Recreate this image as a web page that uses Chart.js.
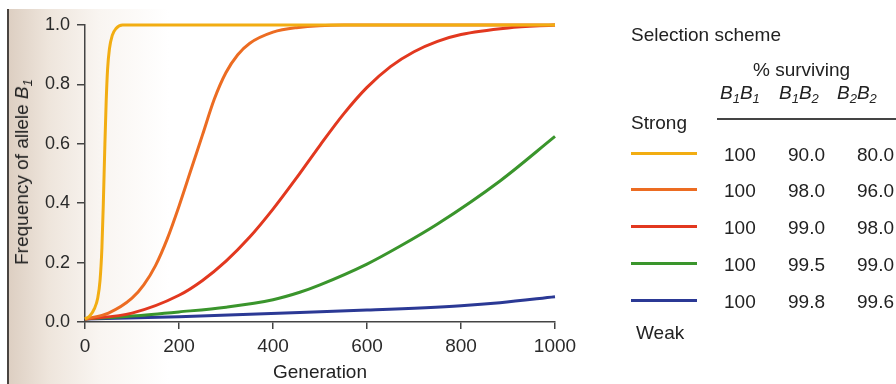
<!DOCTYPE html>
<html>
<head>
<meta charset="utf-8">
<script src="https://cdn.jsdelivr.net/npm/chart.js@4"></script>
<style>
  html, body { margin: 0; padding: 0; background: #fff; }
  #page { position: relative; width: 896px; height: 384px; overflow: hidden;
          font-family: "Liberation Sans", Arial, sans-serif; color: #222; }
  #scan { position: absolute; left: 7px; top: 9px; right: 0; bottom: 0;
          border-left: 2px solid #4a4440;
          background: linear-gradient(to right, #ddcfc2 0px, #eee5dc 40px, #f9f5f1 90px, #fff 160px); }
  #chart { position: absolute; left: 0; top: 0; }
  .txt { position: absolute; font-size: 19px; line-height: 22px; white-space: nowrap; }
  .sample { position: absolute; height: 3px; width: 66px; }
  #ytitle { position: absolute; left: 22px; top: 172px; font-size: 19px; line-height: 22px;
            white-space: nowrap; transform: translate(-50%, -50%) rotate(-90deg); }
  sub { font-size: 13px; vertical-align: -4px; line-height: 0; }
</style>
</head>
<body>
<div id="page">
  <div id="scan"></div>
  <canvas id="chart" width="896" height="384"></canvas>
  <div id="ytitle">Frequency of allele <i>B</i><sub><i>1</i></sub></div>
  <div id="legend"></div>
</div>
<script>
// generation / frequency of allele B1, one pair per selection scheme
const gen90 = [0, 10, 20, 27, 32, 36, 39, 42, 45, 48, 52, 58, 66, 80, 1000];
const freq90 = [0.01, 0.02, 0.045, 0.08, 0.14, 0.25, 0.4, 0.58, 0.74, 0.85, 0.92, 0.965, 0.988, 1.0, 1.0];

const gen98 = [0, 50, 100, 125, 150, 175, 200, 225, 250, 275, 300, 325, 350, 400, 450, 550, 1000];
const freq98 = [0.01, 0.03, 0.08, 0.125, 0.19, 0.28, 0.39, 0.51, 0.63, 0.75, 0.84, 0.9, 0.938, 0.976, 0.991, 1.0, 1.0];

const gen99 = [0, 100, 200, 250, 300, 350, 400, 450, 500, 550, 600, 650, 700, 750, 800, 900, 1000];
const freq99 = [0.01, 0.03, 0.09, 0.14, 0.205, 0.285, 0.38, 0.485, 0.595, 0.7, 0.79, 0.86, 0.91, 0.945, 0.968, 0.99, 1.0];

const gen995 = [0, 100, 200, 300, 400, 457, 500, 600, 670, 750, 883, 1000];
const freq995 = [0.01, 0.02, 0.034, 0.05, 0.075, 0.1, 0.125, 0.195, 0.255, 0.33, 0.475, 0.625];

const gen998 = [0, 200, 457, 600, 800, 883, 1000];
const freq998 = [0.01, 0.018, 0.032, 0.04, 0.055, 0.065, 0.085];

const lineColors = ['#f2ad12', '#ec6c22', '#e2381f', '#3a952c', '#2b3995'];
const b1b1 = ['100', '100', '100', '100', '100'];
const b1b2 = ['90.0', '98.0', '99.0', '99.5', '99.8'];
const b2b2 = ['80.0', '96.0', '98.0', '99.0', '99.6'];
const yTicks = [0, 0.2, 0.4, 0.6, 0.8, 1.0];

function toPoints(xs, ys) {
  return xs.map((x, i) => ({ x: x, y: ys[i] }));
}

const series = [[gen90, freq90], [gen98, freq98], [gen99, freq99], [gen995, freq995], [gen998, freq998]];

const ctx = document.getElementById('chart').getContext('2d');
new Chart(ctx, {
  type: 'line',
  data: {
    datasets: series.map((s, i) => ({
      data: toPoints(s[0], s[1]),
      borderColor: lineColors[i],
      borderWidth: 3,
      pointRadius: 0,
      cubicInterpolationMode: 'monotone',
      fill: false,
      clip: false
    }))
  },
  options: {
    responsive: false,
    animation: false,
    layout: { padding: { left: 0, right: 341, top: 25, bottom: 0 } },
    plugins: { legend: { display: false }, tooltip: { enabled: false } },
    scales: {
      x: {
        type: 'linear',
        min: 0,
        max: 1000,
        ticks: { stepSize: 200, color: '#2a2a2a', padding: 6, callback: (v) => String(v),
                 font: { family: '"Liberation Sans", Arial, sans-serif', size: 19 } },
        grid: { drawOnChartArea: false, tickLength: 7, color: '#444', lineWidth: 1.5 },
        border: { color: '#444', width: 1.5 },
        title: { display: true, text: 'Generation', color: '#222', padding: 0,
                 font: { family: '"Liberation Sans", Arial, sans-serif', size: 19 } },
        afterFit: (s) => { s.height = 62; }
      },
      y: {
        min: 0,
        max: 1,
        afterBuildTicks: (s) => { s.ticks = yTicks.map(v => ({ value: v })); },
        ticks: { color: '#2a2a2a', padding: 7, callback: (v) => v.toFixed(1),
                 font: { family: '"Liberation Sans", Arial, sans-serif', size: 18 } },
        grid: { drawOnChartArea: false, tickLength: 8, color: '#444', lineWidth: 1.5 },
        border: { color: '#444', width: 1.5 },
        afterFit: (s) => { s.width = 85; }
      }
    }
  }
});

// selection scheme table on the right
const legend = document.getElementById('legend');
function addText(html, left, centerY) {
  const d = document.createElement('div');
  d.className = 'txt';
  d.innerHTML = html;
  d.style.left = left + 'px';
  d.style.top = (centerY - 11) + 'px';
  legend.appendChild(d);
}
const rowY = [153, 189, 226, 263, 300];
addText('Selection scheme', 631, 35);
addText('% surviving', 753, 70);
addText('<i>B</i><sub><i>1</i></sub><i>B</i><sub><i>1</i></sub>', 720, 93);
addText('<i>B</i><sub><i>1</i></sub><i>B</i><sub><i>2</i></sub>', 779, 93);
addText('<i>B</i><sub><i>2</i></sub><i>B</i><sub><i>2</i></sub>', 837, 93);
const rule = document.createElement('div');
Object.assign(rule.style, { position: 'absolute', left: '717px', top: '118px', width: '179px', height: '2px', background: '#444' });
legend.appendChild(rule);
addText('Strong', 631, 123);
addText('Weak', 636, 333);
rowY.forEach((y, i) => {
  const s = document.createElement('div');
  s.className = 'sample';
  s.style.left = '631px';
  s.style.top = (y - 1.5) + 'px';
  s.style.background = lineColors[i];
  legend.appendChild(s);
  addText(b1b1[i], 724, y + 2);
  addText(b1b2[i], 788, y + 2);
  addText(b2b2[i], 857, y + 2);
});
</script>
</body>
</html>
